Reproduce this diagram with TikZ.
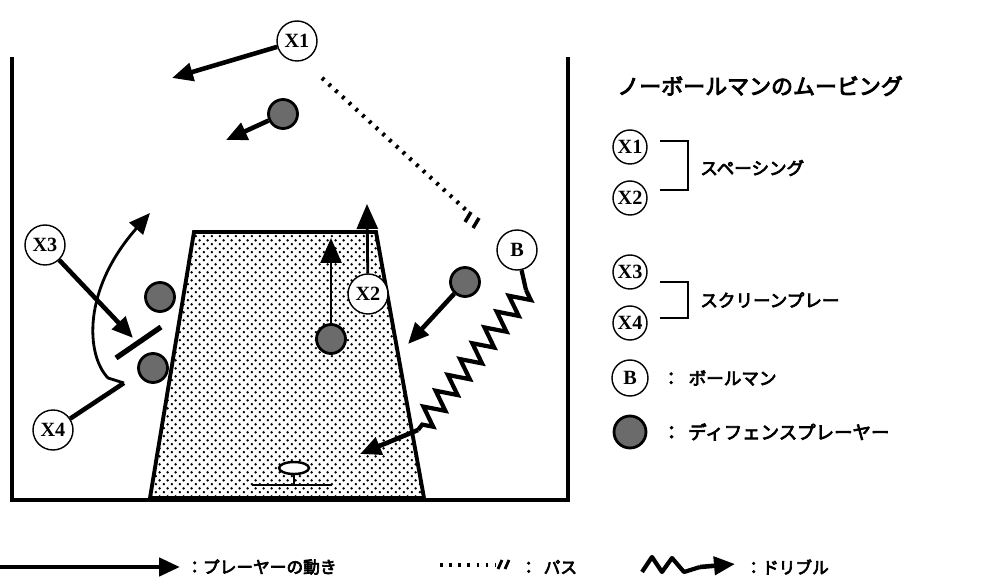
\documentclass[tikz,border=0pt]{standalone}
\usepackage{fontspec}
\newfontfamily\jpfont{Noto Sans CJK JP}[FakeBold=4]
\newfontfamily\tagfont{Liberation Serif}
\usetikzlibrary{arrows.meta,patterns,decorations.pathmorphing}

\pgfdeclarepatternformonly{keydots}{\pgfpointorigin}{\pgfpoint{4.4pt}{4.4pt}}{\pgfpoint{4.4pt}{4.4pt}}{%
  \pgfpathcircle{\pgfpoint{1.1pt}{1.1pt}}{0.75pt}%
  \pgfpathcircle{\pgfpoint{3.3pt}{3.3pt}}{0.75pt}%
  \pgfusepath{fill}}

\tikzset{
  player/.style={circle, draw, line width=0.8pt, fill=white, minimum size=0.8cm,
    inner sep=0pt, font=\tagfont\bfseries\fontsize{11.5}{11}\selectfont},
  defender/.style={circle, draw, line width=1.6pt, fill=black!58, minimum size=0.58cm, inner sep=0pt},
  move/.style={line width=2.6pt, -{Triangle[length=0.42cm,width=0.36cm]}},
  thinmove/.style={line width=1.6pt, -{Triangle[length=0.5cm,width=0.42cm]}},
  pass/.style={line width=2.4pt, dash pattern=on 1.6pt off 3.6pt},
  dribble/.style={line width=2.4pt, decorate,
    decoration={zigzag, segment length=0.4cm, amplitude=0.2cm}},
  legendtxt/.style={anchor=west, inner sep=0pt, font=\jpfont\fontsize{10}{12}\selectfont},
}

\begin{document}
\begin{tikzpicture}[x=0.02cm,y=-0.02cm]
\useasboundingbox (0,0) rectangle (990,587);

% court
\draw[line width=2.8pt] (12,57) -- (12,500) -- (568,500) -- (568,57);
\draw[line width=2.2pt, pattern=keydots] (194,232) -- (376,232) -- (424,498) -- (150,498) -- cycle;
% basket
\draw[line width=1.4pt] (294,475) -- (294,485);
\draw[line width=1.4pt, fill=white] (294,468) ellipse (15 and 6);
\draw[line width=1.6pt] (252,485) -- (332,485);

% players
\node[player] (x1) at (297,41) {X1};
\node[player] (x2) at (368,294) {X2};
\node[player] (x3) at (45,245) {X3};
\node[player] (x4) at (53,430) {X4};
\node[player] (b) at (517,250) {B};

% defenders
\node[defender] (d1) at (283,114) {};
\node[defender] (d2) at (160,297) {};
\node[defender] (d3) at (153,368) {};
\node[defender] (d4) at (331,339) {};
\node[defender] (d5) at (465,282) {};

% free ends
\coordinate (e1) at (172,78);
\coordinate (e2) at (226,140);
\coordinate (e3) at (367,204);
\coordinate (e4) at (331,238);
\coordinate (e5) at (408,344);
\coordinate (e6) at (133,338);
\coordinate (e7) at (150,213);
\coordinate (k1) at (124,383);
\coordinate (p1) at (322,78);
\coordinate (p2) at (466,210);
\coordinate (z0) at (526,290);
\coordinate (z1) at (418,430);
\coordinate (e8) at (360,454);
\coordinate (s1) at (116,358);
\coordinate (s2) at (161,327);

% movements
\draw[move] (x1) -- (e1);
\draw[move] (d1) -- (e2);
\draw[thinmove] (x2) -- (e3);
\draw[thinmove] (d4) -- (e4);
\draw[move] (d5) -- (e5);
\draw[move] (x3) -- (e6);
\draw[line width=2.6pt] (x4) -- (k1);
\draw[line width=1.6pt, -{Triangle[length=0.42cm,width=0.36cm]}] (k1) -- (108,378)
  .. controls (86,355) and (82,290) .. (e7);
% screen
\draw[line width=3pt] (s1) -- (s2);

% pass
\draw[pass] (p1) -- (p2);
\draw[line width=2pt] (465,222) -- (471,212) (473,228) -- (479,218);

% dribble
\draw[line width=2.4pt] (b) -- (z0);
\draw[dribble] (z0) -- (z1);
\draw[move] (z1) -- (e8);

% legend
\node[anchor=west, inner sep=0pt, font=\jpfont\fontsize{12.5}{14}\selectfont] (title) at (617,86)
  {ノーボールマンのムービング};
\node[player, minimum size=0.68cm] (lx1) at (630,147) {X1};
\node[player, minimum size=0.68cm] (lx2) at (630,198) {X2};
\draw[line width=1pt] (660,141) -- (688,141) -- (688,190) -- (660,190);
\node[legendtxt] (sp) at (700,168) {スペーシング};
\node[player, minimum size=0.68cm] (lx3) at (630,272) {X3};
\node[player, minimum size=0.68cm] (lx4) at (630,323) {X4};
\draw[line width=1pt] (660,282) -- (688,282) -- (688,318) -- (660,318);
\node[legendtxt] (sc) at (700,300) {スクリーンプレー};
\node[player, minimum size=0.72cm] (lb) at (630,378) {B};
\node[legendtxt] (bm) at (662,378) {：\hspace{0.5em}ボールマン};
\node[defender, minimum size=0.64cm] (ld) at (630,432) {};
\node[legendtxt, font=\jpfont\fontsize{10.5}{12}\selectfont] (dp) at (662,432) {：\hspace{0.4em}ディフェンスプレーヤー};

% bottom legend
\coordinate (m1) at (0,567);
\coordinate (m2) at (180,567);
\draw[move] (m1) -- (m2);
\node[legendtxt, font=\jpfont\fontsize{9.5}{12}\selectfont] (mv) at (186,567) {：プレーヤーの動き};
\coordinate (q1) at (440,565);
\coordinate (q2) at (496,565);
\draw[pass, line width=1.8pt] (q1) -- (q2);
\draw[line width=1.6pt] (498,569) -- (502,560) (505,569) -- (509,560);
\node[legendtxt, font=\jpfont\fontsize{9.5}{12}\selectfont] (ps) at (520,567) {：\hspace{0.4em}パス};
\coordinate (r1) at (642,572);
\coordinate (r2) at (700,567);
\coordinate (r3) at (735,564);
\draw[line width=2.4pt, line join=round] (r1) -- (652,557) -- (662,572) -- (672,558) -- (684,572) -- (r2);
\draw[move] (r2) -- (r3);
\node[legendtxt, font=\jpfont\fontsize{9.5}{12}\selectfont] (dr) at (745,567) {：ドリブル};
\end{tikzpicture}
\end{document}
